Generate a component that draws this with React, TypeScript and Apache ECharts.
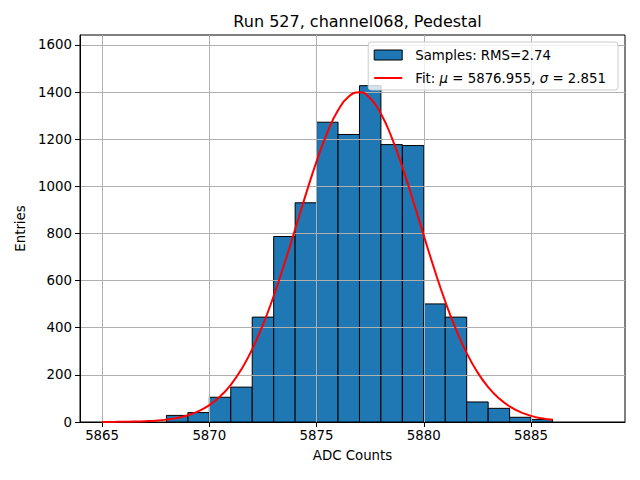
import React, { useEffect, useRef } from "react";
import * as echarts from "echarts";

const titleText = "Run 527, channel068, Pedestal";
const xLabel = "ADC Counts";
const yLabel = "Entries";
const samplesName = "Samples: RMS=2.74";
const fitName = "Fit: μ = 5876.955, σ = 2.851";

const binStarts = [5868, 5869, 5870, 5871, 5872, 5873, 5874, 5875, 5876, 5877, 5878, 5879, 5880, 5881, 5882, 5883, 5884, 5885];
const binWidth = 1;
const counts = [28, 40, 105, 148, 445, 787, 930, 1272, 1220, 1427, 1177, 1173, 501, 445, 85, 58, 20, 11];

const fitX = [
  5865, 5865.5, 5866, 5866.5, 5867, 5867.5, 5868, 5868.5, 5869, 5869.5, 5870, 5870.5, 5871, 5871.5,
  5872, 5872.5, 5873, 5873.5, 5874, 5874.5, 5875, 5875.5, 5876, 5876.5, 5877, 5877.5, 5878, 5878.5,
  5879, 5879.5, 5880, 5880.5, 5881, 5881.5, 5882, 5882.5, 5883, 5883.5, 5884, 5884.5, 5885, 5885.5, 5886,
];
const fitY = [
  0.2, 0.4, 0.9, 1.7, 3.2, 5.7, 10.1, 17.2, 28.5, 45.8, 71.4, 107.8, 158.0, 224.2,
  309.1, 412.6, 534.6, 671.2, 817.6, 965.6, 1105.9, 1228.2, 1322.6, 1381.2, 1399.0, 1373.7, 1308.1, 1208.0,
  1081.6, 939.3, 790.9, 645.8, 511.3, 392.6, 292.4, 211.1, 147.8, 100.3, 66.0, 42.2, 26.1, 15.7, 9.1,
];

const xTicks = [5865, 5870, 5875, 5880, 5885];
const yTicks = [0, 200, 400, 600, 800, 1000, 1200, 1400, 1600];
const xMin = 5863.97;
const xMax = 5889.38;
const yMin = 0;
const yMax = 1642;

const FONT = "DejaVu Sans";
const FS = 13.33;

export default function App() {
  const ref = useRef<HTMLDivElement>(null);
  useEffect(() => {
    document.body.style.margin = "0";
    if (!ref.current) return;
    const chart = echarts.init(ref.current, null, { renderer: "svg" });
    const histData = binStarts.map((b, i) => [b, b + binWidth, counts[i]]);
    const fitData = fitX.map((x, i) => [x, fitY[i]]);
    const option: any = {
      animation: false,
      backgroundColor: "#ffffff",
      title: {
        text: titleText,
        left: 352.5,
        top: 8,
        textAlign: "center",
        textStyle: { fontFamily: FONT, fontSize: 16, fontWeight: "normal", color: "#000" },
      },
      grid: {
        left: 80,
        right: 15,
        top: 35,
        bottom: 58,
        show: true,
        borderColor: "#000",
        borderWidth: 1,
        backgroundColor: "transparent",
      },
      legend: {
        orient: "vertical",
        right: 22,
        top: 42,
        padding: [5, 12, 4, 5],
        itemGap: 7,
        itemWidth: 28,
        itemHeight: 10,
        backgroundColor: "rgba(255,255,255,0.8)",
        borderColor: "#cccccc",
        borderWidth: 1,
        borderRadius: 3,
        data: [
          { name: samplesName, icon: "rect", itemStyle: { color: "#1f77b4", borderColor: "#000", borderWidth: 1 } },
          { name: fitName, itemStyle: { opacity: 0 }, lineStyle: { color: "#ff0000", width: 2, opacity: 1 } },
        ],
        formatter: (name: string) => name.replace("μ", "{i|μ}").replace("σ", "{i|σ}"),
        textStyle: {
          fontFamily: FONT,
          fontSize: FS,
          color: "#000",
          lineHeight: 16,
          padding: [0, 0, 0, 8],
          rich: {
            i: { fontFamily: FONT, fontSize: FS, fontStyle: "italic", color: "#000" },
          },
        },
      },
      xAxis: {
        type: "value",
        min: xMin,
        max: xMax,
        z: 2,
        name: xLabel,
        nameLocation: "middle",
        nameGap: 27,
        nameTextStyle: { fontFamily: FONT, fontSize: FS, color: "#000" },
        axisLine: { show: true, onZero: false, lineStyle: { color: "#000", width: 1 } },
        axisTick: { show: true, inside: false, length: 5, customValues: xTicks, lineStyle: { color: "#000", width: 1 } },
        axisLabel: {
          customValues: xTicks,
          margin: 7,
          fontFamily: FONT,
          fontSize: FS,
          color: "#000",
          formatter: (v: number) => String(Math.round(v)),
        },
        splitLine: { show: true, lineStyle: { color: "#b0b0b0", width: 1 } },
      },
      yAxis: {
        type: "value",
        min: yMin,
        max: yMax,
        z: 2,
        name: yLabel,
        nameLocation: "middle",
        nameGap: 46,
        nameTextStyle: { fontFamily: FONT, fontSize: FS, color: "#000" },
        axisLine: { show: true, lineStyle: { color: "#000", width: 1 } },
        axisTick: { show: true, inside: false, length: 5, customValues: yTicks, lineStyle: { color: "#000", width: 1 } },
        axisLabel: {
          customValues: yTicks,
          margin: 8,
          fontFamily: FONT,
          fontSize: FS,
          color: "#000",
          formatter: (v: number) => String(Math.round(v)),
        },
        splitLine: { show: true, lineStyle: { color: "#b0b0b0", width: 1 } },
      },
      series: [
        {
          name: samplesName,
          type: "custom",
          z: 1,
          itemStyle: { color: "#1f77b4", borderColor: "#000", borderWidth: 1 },
          encode: { x: [0, 1], y: 2 },
          data: histData,
          renderItem: (params: any, api: any) => {
            const p0 = api.coord([api.value(0), api.value(2)]);
            const p1 = api.coord([api.value(1), 0]);
            return {
              type: "rect",
              shape: { x: p0[0], y: p0[1], width: p1[0] - p0[0], height: p1[1] - p0[1] },
              style: { fill: "#1f77b4", stroke: "#000", lineWidth: 1 },
            };
          },
        },
        {
          name: fitName,
          type: "line",
          z: 3,
          data: fitData,
          smooth: true,
          symbol: "none",
          showSymbol: false,
          lineStyle: { color: "#ff0000", width: 2 },
          itemStyle: { color: "#ff0000" },
        },
      ],
    };
    chart.setOption(option);
    return () => chart.dispose();
  }, []);
  return <div ref={ref} style={{ width: 640, height: 480 }} />;
}
